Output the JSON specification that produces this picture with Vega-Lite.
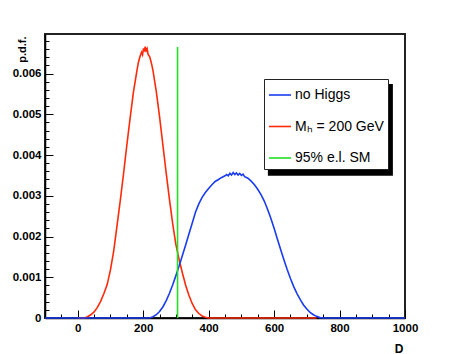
{
  "$schema": "https://vega.github.io/schema/vega-lite/v6.json",
  "width": 360,
  "height": 284,
  "autosize": {"type": "none"},
  "padding": {"left": 45, "top": 34, "right": 47, "bottom": 36},
  "background": "white",
  "config": {
    "view": {"stroke": "#222", "strokeWidth": 2},
    "font": "Liberation Sans",
    "axis": {
      "grid": false,
      "domainColor": "black",
      "domainWidth": 1.5,
      "tickColor": "black",
      "tickWidth": 1,
      "labelFont": "Liberation Sans",
      "labelFontWeight": "bold",
      "labelFontSize": 11.5,
      "labelColor": "black",
      "titleFont": "Liberation Sans",
      "titleFontWeight": "bold",
      "titleColor": "black"
    }
  },
  "resolve": {"axis": {"x": "independent", "y": "independent"}},
  "datasets": {
    "curves": [
      {"series": "Mₕ = 200 GeV", "D": 0, "p": 0},
      {"series": "Mₕ = 200 GeV", "D": 20, "p": 0},
      {"series": "Mₕ = 200 GeV", "D": 30, "p": 0.00003},
      {"series": "Mₕ = 200 GeV", "D": 40, "p": 0.00008},
      {"series": "Mₕ = 200 GeV", "D": 50, "p": 0.00015},
      {"series": "Mₕ = 200 GeV", "D": 60, "p": 0.00026},
      {"series": "Mₕ = 200 GeV", "D": 70, "p": 0.00041},
      {"series": "Mₕ = 200 GeV", "D": 80, "p": 0.0006},
      {"series": "Mₕ = 200 GeV", "D": 90, "p": 0.00082},
      {"series": "Mₕ = 200 GeV", "D": 100, "p": 0.00118},
      {"series": "Mₕ = 200 GeV", "D": 110, "p": 0.00165},
      {"series": "Mₕ = 200 GeV", "D": 120, "p": 0.00226},
      {"series": "Mₕ = 200 GeV", "D": 130, "p": 0.00288},
      {"series": "Mₕ = 200 GeV", "D": 140, "p": 0.00354},
      {"series": "Mₕ = 200 GeV", "D": 150, "p": 0.00424},
      {"series": "Mₕ = 200 GeV", "D": 160, "p": 0.0049},
      {"series": "Mₕ = 200 GeV", "D": 170, "p": 0.00553},
      {"series": "Mₕ = 200 GeV", "D": 180, "p": 0.00603},
      {"series": "Mₕ = 200 GeV", "D": 185, "p": 0.00626},
      {"series": "Mₕ = 200 GeV", "D": 190, "p": 0.00641},
      {"series": "Mₕ = 200 GeV", "D": 195, "p": 0.00652},
      {"series": "Mₕ = 200 GeV", "D": 198, "p": 0.00646},
      {"series": "Mₕ = 200 GeV", "D": 201, "p": 0.00662},
      {"series": "Mₕ = 200 GeV", "D": 204, "p": 0.00654},
      {"series": "Mₕ = 200 GeV", "D": 206, "p": 0.00666},
      {"series": "Mₕ = 200 GeV", "D": 209, "p": 0.00656},
      {"series": "Mₕ = 200 GeV", "D": 212, "p": 0.00661},
      {"series": "Mₕ = 200 GeV", "D": 215, "p": 0.00647},
      {"series": "Mₕ = 200 GeV", "D": 220, "p": 0.00641},
      {"series": "Mₕ = 200 GeV", "D": 225, "p": 0.00626},
      {"series": "Mₕ = 200 GeV", "D": 230, "p": 0.00607},
      {"series": "Mₕ = 200 GeV", "D": 240, "p": 0.00556},
      {"series": "Mₕ = 200 GeV", "D": 250, "p": 0.00494},
      {"series": "Mₕ = 200 GeV", "D": 260, "p": 0.00426},
      {"series": "Mₕ = 200 GeV", "D": 270, "p": 0.00358},
      {"series": "Mₕ = 200 GeV", "D": 280, "p": 0.00293},
      {"series": "Mₕ = 200 GeV", "D": 290, "p": 0.00232},
      {"series": "Mₕ = 200 GeV", "D": 300, "p": 0.0018},
      {"series": "Mₕ = 200 GeV", "D": 310, "p": 0.00143},
      {"series": "Mₕ = 200 GeV", "D": 320, "p": 0.0011},
      {"series": "Mₕ = 200 GeV", "D": 330, "p": 0.0008},
      {"series": "Mₕ = 200 GeV", "D": 340, "p": 0.00055},
      {"series": "Mₕ = 200 GeV", "D": 350, "p": 0.00035},
      {"series": "Mₕ = 200 GeV", "D": 360, "p": 0.0002},
      {"series": "Mₕ = 200 GeV", "D": 370, "p": 0.00011},
      {"series": "Mₕ = 200 GeV", "D": 380, "p": 0.00005},
      {"series": "Mₕ = 200 GeV", "D": 390, "p": 0.00002},
      {"series": "Mₕ = 200 GeV", "D": 400, "p": 0},
      {"series": "Mₕ = 200 GeV", "D": 730, "p": 0},
      {"series": "no Higgs", "D": -100, "p": 0},
      {"series": "no Higgs", "D": 220, "p": 0},
      {"series": "no Higgs", "D": 230, "p": 0.00003},
      {"series": "no Higgs", "D": 240, "p": 0.00008},
      {"series": "no Higgs", "D": 250, "p": 0.00016},
      {"series": "no Higgs", "D": 260, "p": 0.00027},
      {"series": "no Higgs", "D": 270, "p": 0.00042},
      {"series": "no Higgs", "D": 280, "p": 0.0006},
      {"series": "no Higgs", "D": 290, "p": 0.00081},
      {"series": "no Higgs", "D": 300, "p": 0.00104},
      {"series": "no Higgs", "D": 310, "p": 0.00128},
      {"series": "no Higgs", "D": 320, "p": 0.00154},
      {"series": "no Higgs", "D": 330, "p": 0.0018},
      {"series": "no Higgs", "D": 340, "p": 0.00207},
      {"series": "no Higgs", "D": 350, "p": 0.00233},
      {"series": "no Higgs", "D": 360, "p": 0.0026},
      {"series": "no Higgs", "D": 370, "p": 0.0028},
      {"series": "no Higgs", "D": 380, "p": 0.00296},
      {"series": "no Higgs", "D": 390, "p": 0.00308},
      {"series": "no Higgs", "D": 400, "p": 0.00318},
      {"series": "no Higgs", "D": 410, "p": 0.00327},
      {"series": "no Higgs", "D": 420, "p": 0.00335},
      {"series": "no Higgs", "D": 430, "p": 0.0034},
      {"series": "no Higgs", "D": 440, "p": 0.00345},
      {"series": "no Higgs", "D": 450, "p": 0.00349},
      {"series": "no Higgs", "D": 455, "p": 0.00352},
      {"series": "no Higgs", "D": 460, "p": 0.00349},
      {"series": "no Higgs", "D": 465, "p": 0.00355},
      {"series": "no Higgs", "D": 470, "p": 0.00351},
      {"series": "no Higgs", "D": 475, "p": 0.00357},
      {"series": "no Higgs", "D": 480, "p": 0.00352},
      {"series": "no Higgs", "D": 485, "p": 0.00356},
      {"series": "no Higgs", "D": 490, "p": 0.00351},
      {"series": "no Higgs", "D": 495, "p": 0.00355},
      {"series": "no Higgs", "D": 500, "p": 0.0035},
      {"series": "no Higgs", "D": 505, "p": 0.00353},
      {"series": "no Higgs", "D": 510, "p": 0.00347},
      {"series": "no Higgs", "D": 520, "p": 0.00343},
      {"series": "no Higgs", "D": 530, "p": 0.00336},
      {"series": "no Higgs", "D": 540, "p": 0.00327},
      {"series": "no Higgs", "D": 550, "p": 0.00316},
      {"series": "no Higgs", "D": 560, "p": 0.00303},
      {"series": "no Higgs", "D": 570, "p": 0.00287},
      {"series": "no Higgs", "D": 580, "p": 0.00267},
      {"series": "no Higgs", "D": 590, "p": 0.00245},
      {"series": "no Higgs", "D": 600, "p": 0.0022},
      {"series": "no Higgs", "D": 610, "p": 0.00194},
      {"series": "no Higgs", "D": 620, "p": 0.00168},
      {"series": "no Higgs", "D": 630, "p": 0.00143},
      {"series": "no Higgs", "D": 640, "p": 0.00119},
      {"series": "no Higgs", "D": 650, "p": 0.00097},
      {"series": "no Higgs", "D": 660, "p": 0.00077},
      {"series": "no Higgs", "D": 670, "p": 0.0006},
      {"series": "no Higgs", "D": 680, "p": 0.00045},
      {"series": "no Higgs", "D": 690, "p": 0.00032},
      {"series": "no Higgs", "D": 700, "p": 0.00022},
      {"series": "no Higgs", "D": 710, "p": 0.00014},
      {"series": "no Higgs", "D": 720, "p": 0.00008},
      {"series": "no Higgs", "D": 730, "p": 0.00004},
      {"series": "no Higgs", "D": 740, "p": 0.00001},
      {"series": "no Higgs", "D": 750, "p": 0},
      {"series": "no Higgs", "D": 1000, "p": 0}
    ],
    "cut": [
      {"series": "95% e.l. SM", "D": 305, "p": 0, "p2": 0.00665}
    ]
  },
  "layer": [
    {
      "data": {"values": [{}]},
      "mark": {"type": "rect", "color": "black"},
      "encoding": {
        "x": {"datum": 581, "type": "quantitative", "scale": {"domain": [-100, 1000], "nice": false, "zero": false}, "axis": null},
        "x2": {"datum": 963},
        "y": {"datum": 0.00349, "type": "quantitative", "scale": {"domain": [0, 0.00697], "nice": false, "zero": false}, "axis": null},
        "y2": {"datum": 0.00574}
      }
    },
    {
      "data": {"name": "curves"},
      "transform": [{"filter": {"field": "series", "equal": "Mₕ = 200 GeV"}}],
      "mark": {"type": "line", "strokeWidth": 1.6},
      "encoding": {
        "x": {
          "field": "D",
          "type": "quantitative",
          "axis": {
            "orient": "bottom",
            "values": [0, 200, 400, 600, 800, 1000],
            "format": "d",
            "tickSize": -8,
            "labelPadding": 12,
            "labelFlush": false,
            "labelOverlap": false,
            "title": "D",
            "titleFontSize": 12,
            "titleAnchor": "end",
            "titleAlign": "right",
            "titleBaseline": "alphabetic",
            "titleX": 358,
            "titleY": 34
          }
        },
        "y": {
          "field": "p",
          "type": "quantitative",
          "axis": {
            "orient": "left",
            "values": [0, 0.001, 0.002, 0.003, 0.004, 0.005, 0.006],
            "labelExpr": "datum.value === 0 ? '0' : format(datum.value, '.3f')",
            "tickSize": -8,
            "labelPadding": 12,
            "labelFlush": false,
            "labelOverlap": false,
            "title": "p.d.f.",
            "titleFontSize": 11,
            "titleAngle": 270,
            "titleAlign": "right",
            "titleBaseline": "middle",
            "titleX": -23,
            "titleY": 2
          }
        },
        "color": {
          "field": "series",
          "type": "nominal",
          "scale": {
            "domain": ["no Higgs", "Mₕ = 200 GeV", "95% e.l. SM"],
            "range": ["#1a3cf0", "#ff2a0a", "#22e022"]
          },
          "legend": {
            "orient": "none",
            "legendX": 219,
            "legendY": 45,
            "title": null,
            "symbolType": "stroke",
            "symbolSize": 484,
            "symbolStrokeWidth": 1.6,
            "labelFont": "Liberation Sans",
            "labelFontSize": 14,
            "labelFontWeight": "normal",
            "labelColor": "black",
            "labelOffset": 3,
            "labelLimit": 300,
            "rowPadding": 12.5,
            "padding": 4,
            "strokeColor": "#222",
            "fillColor": "white"
          }
        }
      }
    },
    {
      "data": {"name": "curves"},
      "transform": [{"filter": {"field": "series", "equal": "no Higgs"}}],
      "mark": {"type": "line", "strokeWidth": 1.6},
      "encoding": {
        "x": {"field": "D", "type": "quantitative", "axis": null},
        "y": {"field": "p", "type": "quantitative", "axis": null},
        "color": {"field": "series", "type": "nominal"}
      }
    },
    {
      "data": {"name": "cut"},
      "mark": {"type": "rule", "strokeWidth": 1.6},
      "encoding": {
        "x": {
          "field": "D",
          "type": "quantitative",
          "axis": {
            "orient": "bottom",
            "values": [-100, -50, 50, 100, 150, 250, 300, 350, 450, 500, 550, 650, 700, 750, 850, 900, 950],
            "tickSize": -4,
            "labels": false,
            "domain": false,
            "title": null
          }
        },
        "y": {
          "field": "p",
          "type": "quantitative",
          "axis": {
            "orient": "left",
            "values": [0.0002, 0.0004, 0.0006, 0.0008, 0.0012, 0.0014, 0.0016, 0.0018, 0.0022, 0.0024, 0.0026, 0.0028, 0.0032, 0.0034, 0.0036, 0.0038, 0.0042, 0.0044, 0.0046, 0.0048, 0.0052, 0.0054, 0.0056, 0.0058, 0.0062, 0.0064, 0.0066, 0.0068],
            "tickSize": -4,
            "labels": false,
            "domain": false,
            "title": null
          }
        },
        "y2": {"field": "p2"},
        "color": {"field": "series", "type": "nominal"}
      }
    }
  ]
}
